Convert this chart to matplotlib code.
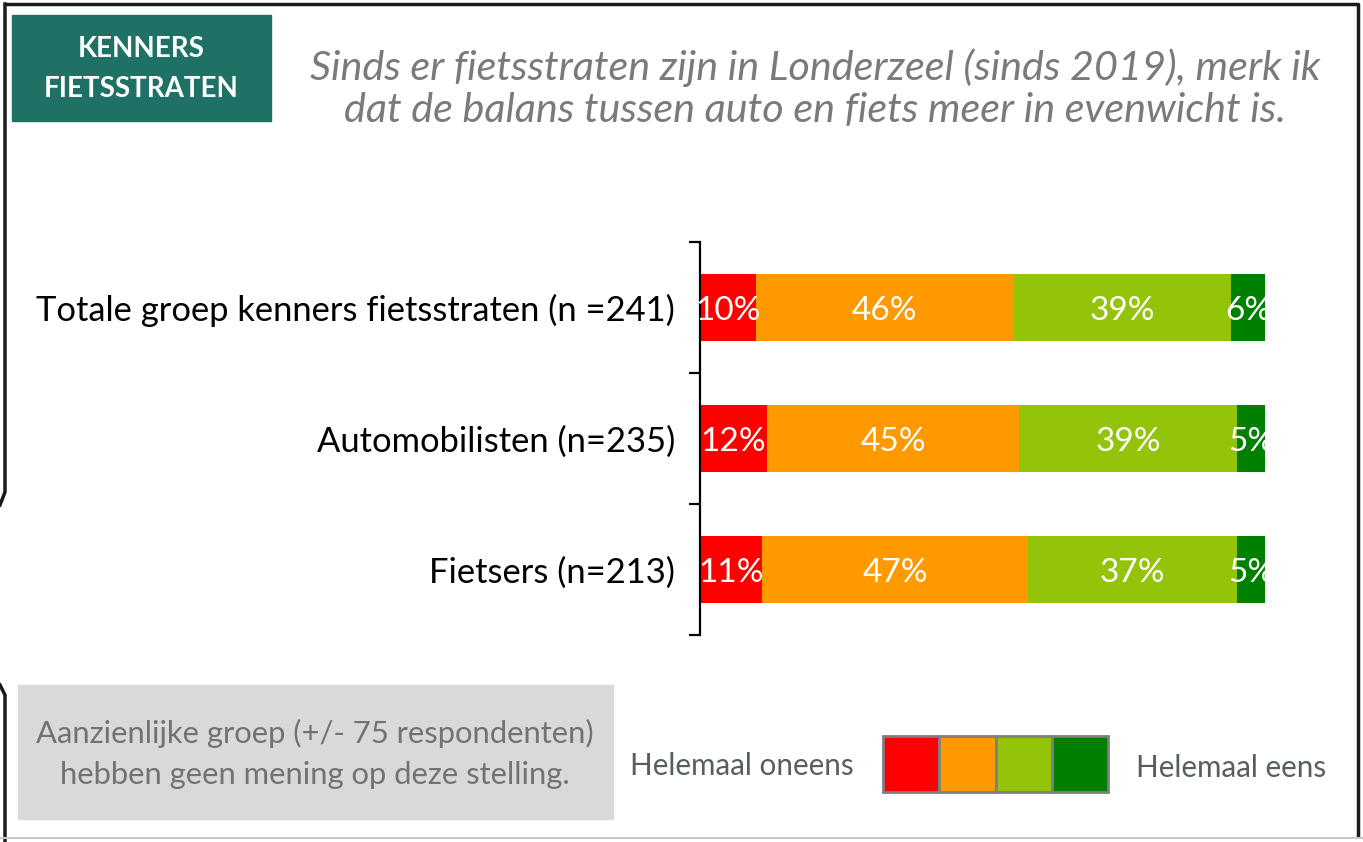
import matplotlib.pyplot as plt
from matplotlib.lines import Line2D
from matplotlib.patches import Rectangle
import numpy as np

plt.rcParams['font.family'] = ['Lato', 'DejaVu Sans']

# data
groups = ['Totale groep kenners fietsstraten (n =241)',
          'Automobilisten (n=235)',
          'Fietsers (n=213)']
oneens_helemaal = [10, 12, 11]
oneens = [46, 45, 47]
eens = [39, 39, 37]
eens_helemaal = [6, 5, 5]
colors = ['#ff0000', '#ff9900', '#94c40a', '#008000']

W, H = 1363, 842
fig = plt.figure(figsize=(W / 100, H / 100), dpi=100)

def fx(px):
    return px / W

def fy(py):
    return 1 - py / H

ax = fig.add_axes([fx(700), fy(635), fx(1265) - fx(700), fy(242) - fy(635)])

series = np.array([oneens_helemaal, oneens, eens, eens_helemaal], dtype=float)
totals = series.sum(axis=0)
y = np.arange(len(groups))
left = np.zeros(len(groups))
for vals, col in zip(series, colors):
    widths = vals / totals * 100
    ax.barh(y, widths, left=left, height=0.51, color=col, edgecolor='none')
    for yi, (l, w, v) in enumerate(zip(left, widths, vals)):
        ax.text(l + w / 2, yi + 0.03, f'{int(v)}%', ha='center', va='center',
                color='white', fontsize=24)
    left += widths

ax.set_xlim(0, 100)
ax.set_ylim(len(groups) - 0.5, -0.5)
ax.set_xticks([])
ax.set_yticks(y)
ax.set_yticklabels(groups, fontsize=24.8, color='black')
ax.set_yticks(np.arange(-0.5, len(groups)), minor=True)
ax.tick_params(axis='y', which='major', length=0, pad=18)
ax.tick_params(axis='y', which='minor', length=8, width=1.6, direction='out')
for s in ['top', 'right', 'bottom']:
    ax.spines[s].set_visible(False)
ax.spines['left'].set_linewidth(1.6)

# title
fig.text(fx(815), fy(68), 'Sinds er fietsstraten zijn in Londerzeel (sinds 2019), merk ik',
         ha='center', va='center', fontsize=29.8, style='italic', color='#7a7a7a')
fig.text(fx(815), fy(111), 'dat de balans tussen auto en fiets meer in evenwicht is.',
         ha='center', va='center', fontsize=29.8, style='italic', color='#7a7a7a')

# green label box
fig.add_artist(Rectangle((fx(12), fy(121)), fx(271) - fx(12), fy(15) - fy(121),
                         transform=fig.transFigure, color='#1f7065'))
fig.text(fx(141), fy(69), 'KENNERS\nFIETSSTRATEN', ha='center', va='center',
         fontsize=20, fontweight='bold', color='white', linespacing=1.7)

# gray note box
fig.add_artist(Rectangle((fx(18), fy(819)), fx(613) - fx(18), fy(685) - fy(819),
                         transform=fig.transFigure, color='#d9d9d9'))
fig.text(fx(315), fy(754), 'Aanzienlijke groep (+/- 75 respondenten)\nhebben geen mening op deze stelling.',
         ha='center', va='center', fontsize=22.3, color='#767171', linespacing=1.55)

# legend scale
fig.text(fx(630), fy(766), 'Helemaal oneens', ha='left', va='center',
         fontsize=21.3, color='#555f5f')
fig.text(fx(1136), fy(768), 'Helemaal eens', ha='left', va='center',
         fontsize=21.3, color='#555f5f')
cell = (1108 - 883) / 4
for i, col in enumerate(colors):
    fig.add_artist(Rectangle((fx(883 + i * cell), fy(792)), fx(cell), fy(736) - fy(792),
                             transform=fig.transFigure, facecolor=col,
                             edgecolor='#7f7f7f', linewidth=2))

# frame
def line(xs, ys, **kw):
    fig.add_artist(Line2D([fx(v) for v in xs], [fy(v) for v in ys],
                          transform=fig.transFigure, **kw))

line([5, 1358, 1358], [4, 4, 836], color='#1a1a1a', lw=2.5)
line([5, 5, 0], [4, 492, 505], color='#1a1a1a', lw=2.5)
line([0, 5, 5], [685, 695, 842], color='#1a1a1a', lw=2.5)
line([0, 1363], [838, 838], color='#c8c8c8', lw=1.5)

fig.savefig('out.png', dpi=100)
